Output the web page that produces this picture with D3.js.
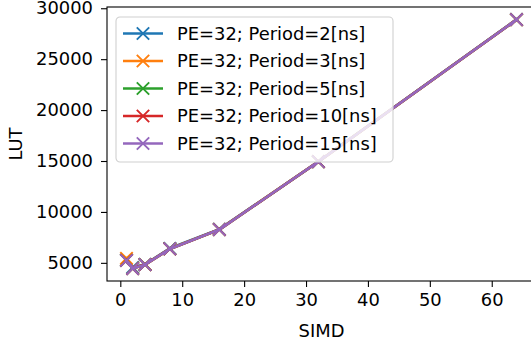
<!DOCTYPE html>
<html>
<head>
<meta charset="utf-8">
<script src="https://cdn.jsdelivr.net/npm/d3@7"></script>
<style>
    body { margin: 0; background: #fff; }
    svg { display: block; font-family: "DejaVu Sans", sans-serif; }
</style>
</head>
<body>
<svg id="chart" width="531" height="344"></svg>
<script>
/**
 * Data.
 */
const simd = [1, 2, 4, 8, 16, 32, 64];
const seriesNames = [
    'PE=32; Period=2[ns]',
    'PE=32; Period=3[ns]',
    'PE=32; Period=5[ns]',
    'PE=32; Period=10[ns]',
    'PE=32; Period=15[ns]'
];
const lutPeriod2 = [5250, 4560, 4850, 6430, 8300, 14950, 28900];
const lutPeriod3 = [5450, 4480, 4830, 6380, 8280, 14930, 28880];
const lutPeriod5 = [5250, 4440, 4830, 6370, 8270, 14930, 28880];
const lutPeriod10 = [5250, 4440, 4830, 6370, 8270, 14930, 28880];
const lutPeriod15 = [5230, 4440, 4820, 6370, 8270, 14930, 28880];
const xTicks = [0, 10, 20, 30, 40, 50, 60];
const yTicks = [5000, 10000, 15000, 20000, 25000, 30000];

/**
 * Visual configs.
 */
const colors = ['#1f77b4', '#ff7f0e', '#2ca02c', '#d62728', '#9467bd'],
    plot = { left: 107, right: 536, top: 7, bottom: 281 },
    fontSize = 17.9,
    tickLength = 6,
    markerSize = 6.2;

const seriesData = [lutPeriod2, lutPeriod3, lutPeriod5, lutPeriod10, lutPeriod15]
    .map((values, i) => ({ name: seriesNames[i], color: colors[i], points: values.map((v, j) => ({ x: simd[j], y: v })) }));

// Matplotlib style 5% margins
function padded(extent) {
    const pad = (extent[1] - extent[0]) * 0.05;
    return [extent[0] - pad, extent[1] + pad];
}

const allY = [].concat(...seriesData.map(s => s.points.map(p => p.y)));

const xScale = d3.scaleLinear().domain(padded(d3.extent(simd))).range([plot.left, plot.right]),
    yScale = d3.scaleLinear().domain(padded(d3.extent(allY))).range([plot.bottom, plot.top]);

const svg = d3.select('#chart');

/**
 * Series.
 */
const line = d3.line().x(d => xScale(d.x)).y(d => yScale(d.y));

function cross(g, color) {
    g.append('path')
        .attr('d', `M${-markerSize},${-markerSize}L${markerSize},${markerSize}M${-markerSize},${markerSize}L${markerSize},${-markerSize}`)
        .attr('stroke', color)
        .attr('stroke-width', 1.9)
        .attr('fill', 'none');
}

const series = svg.append('g').attr('class', 'series');
seriesData.forEach(s => {
    const g = series.append('g');
    g.append('path')
        .datum(s.points)
        .attr('d', line)
        .attr('fill', 'none')
        .attr('stroke', s.color)
        .attr('stroke-width', 2.7)
        .attr('stroke-linejoin', 'round')
        .attr('stroke-linecap', 'square');
    s.points.forEach(p => {
        g.append('g')
            .attr('transform', `translate(${xScale(p.x)},${yScale(p.y)})`)
            .call(cross, s.color);
    });
});

/**
 * Axes.
 */
const xAxis = svg.append('g')
    .attr('transform', `translate(0,${plot.bottom})`)
    .call(d3.axisBottom(xScale).tickValues(xTicks).tickSize(tickLength).tickPadding(6));
const yAxis = svg.append('g')
    .attr('transform', `translate(${plot.left},0)`)
    .call(d3.axisLeft(yScale).tickValues(yTicks).tickSize(tickLength).tickPadding(8).tickFormat(d3.format('d')));

[xAxis, yAxis].forEach(a => {
    a.selectAll('text').attr('font-size', fontSize).attr('font-family', '"DejaVu Sans"').attr('fill', '#000');
    a.selectAll('line').attr('stroke', '#000').attr('stroke-width', 1.1);
    a.select('.domain').remove();
});

// Spines
svg.append('rect')
    .attr('x', plot.left)
    .attr('y', plot.top)
    .attr('width', plot.right - plot.left)
    .attr('height', plot.bottom - plot.top)
    .attr('fill', 'none')
    .attr('stroke', '#000')
    .attr('stroke-width', 1.1);

// Axis labels
svg.append('text')
    .attr('x', (plot.left + plot.right) / 2)
    .attr('y', 337)
    .attr('text-anchor', 'middle')
    .attr('font-size', fontSize)
    .text('SIMD');
svg.append('text')
    .attr('transform', `translate(22,${(plot.top + plot.bottom) / 2}) rotate(-90)`)
    .attr('text-anchor', 'middle')
    .attr('font-size', fontSize)
    .text('LUT');

/**
 * Legend.
 */
const legend = svg.append('g').attr('transform', 'translate(116,17)');
legend.append('rect')
    .attr('width', 277)
    .attr('height', 145)
    .attr('rx', 4)
    .attr('fill', 'rgba(255,255,255,0.8)')
    .attr('stroke', '#d0d0d0')
    .attr('stroke-width', 1.1);

seriesData.forEach((s, i) => {
    const row = legend.append('g').attr('transform', `translate(0,${16.5 + i * 27.5})`);
    row.append('line')
        .attr('x1', 7).attr('x2', 47)
        .attr('stroke', s.color)
        .attr('stroke-width', 2.7);
    row.append('g').attr('transform', 'translate(27,0)').call(cross, s.color);
    row.append('text')
        .attr('x', 61)
        .attr('dy', '0.35em')
        .attr('font-size', fontSize)
        .text(s.name);
});
</script>
</body>
</html>
